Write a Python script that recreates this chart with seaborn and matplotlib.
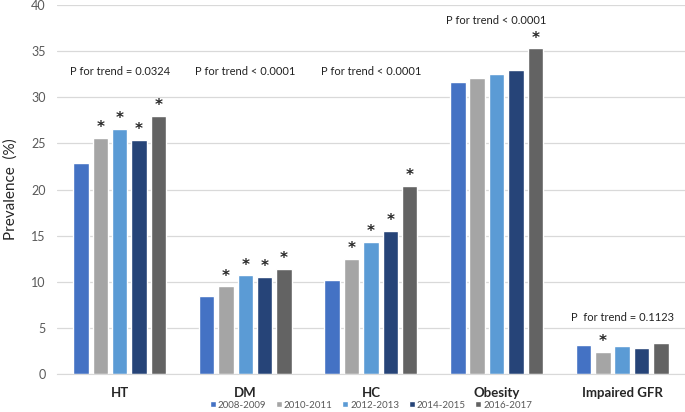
import numpy as np
import pandas as pd
import matplotlib.pyplot as plt
import seaborn as sns

categories = ['HT', 'DM', 'HC', 'Obesity', 'Impaired GFR']
periods = ['2008-2009', '2010-2011', '2012-2013', '2014-2015', '2016-2017']
colors = ['#4472C4', '#A5A5A5', '#5B9BD5', '#264478', '#636363']

# prevalence (%) per category, one list per period
p2008 = [22.9, 8.5, 10.2, 31.6, 3.1]
p2010 = [25.6, 9.5, 12.5, 32.1, 2.4]
p2012 = [26.6, 10.7, 14.3, 32.5, 3.0]
p2014 = [25.4, 10.5, 15.5, 32.9, 2.8]
p2016 = [28.0, 11.4, 20.4, 35.3, 3.4]

# significance marks (1 = star above bar)
star2008 = [0, 0, 0, 0, 0]
star2010 = [1, 1, 1, 0, 1]
star2012 = [1, 1, 1, 0, 0]
star2014 = [1, 1, 1, 0, 0]
star2016 = [1, 1, 1, 1, 0]

trend_text = ['P for trend = 0.0324', 'P for trend < 0.0001', 'P for trend < 0.0001',
              'P for trend < 0.0001', 'P  for trend = 0.1123']
trend_y = [32.8, 32.8, 32.8, 38.3, 6.1]

vals = [p2008, p2010, p2012, p2014, p2016]
stars = [star2008, star2010, star2012, star2014, star2016]
rows = []
for per, v, s in zip(periods, vals, stars):
    for c, x, st in zip(categories, v, s):
        rows.append({'cat': c, 'period': per, 'value': x, 'star': st})
df = pd.DataFrame(rows)

sns.set_style('white')
plt.rcParams['font.family'] = ['Lato', 'DejaVu Sans']

fig = plt.figure(figsize=(6.85, 4.12), dpi=100)
ax = fig.add_axes([0.083, 0.092, 0.917, 0.896])

sns.barplot(data=df, x='cat', y='value', hue='period', order=categories,
            hue_order=periods, palette=colors, width=0.77, gap=0.2,
            saturation=1, ax=ax, legend=True)

# stars over bars
for container, per in zip(ax.containers, periods):
    sub = df[df['period'] == per].set_index('cat').loc[categories]
    for bar, st in zip(container, sub['star']):
        if st:
            ax.text(bar.get_x() + bar.get_width() / 2, bar.get_height() + 0.3, '*',
                    ha='center', va='bottom', fontsize=11, fontweight='bold',
                    family='DejaVu Sans')

for i, (t, y) in enumerate(zip(trend_text, trend_y)):
    ax.text(i, y, t, ha='center', va='center', fontsize=8, color='#222222')

ax.set_ylim(0, 40)
ax.set_yticks(range(0, 41, 5))
ax.yaxis.grid(True, color='#D9D9D9', linewidth=0.9)
ax.set_axisbelow(True)
for s in ['top', 'right', 'left']:
    ax.spines[s].set_visible(False)
ax.spines['bottom'].set_color('#D9D9D9')
ax.tick_params(axis='y', length=0, labelsize=9, labelcolor='#595959', pad=8)
ax.tick_params(axis='x', length=0, labelsize=9.5, pad=9)
for lab in ax.get_xticklabels():
    lab.set_fontweight('bold')
ax.set_xlabel('')
ax.set_ylabel('Prevalence  (%)', fontsize=11, labelpad=10)

handles, labels = ax.get_legend_handles_labels()
ax.legend(handles, labels, loc='center', bbox_to_anchor=(0.5, -0.084),
          ncol=5, frameon=False, fontsize=7, handlelength=0.6, handleheight=0.6,
          handletextpad=0.2, columnspacing=1.0, labelcolor='#595959',
          borderpad=0, borderaxespad=0)

fig.savefig('out.png', dpi=100)
